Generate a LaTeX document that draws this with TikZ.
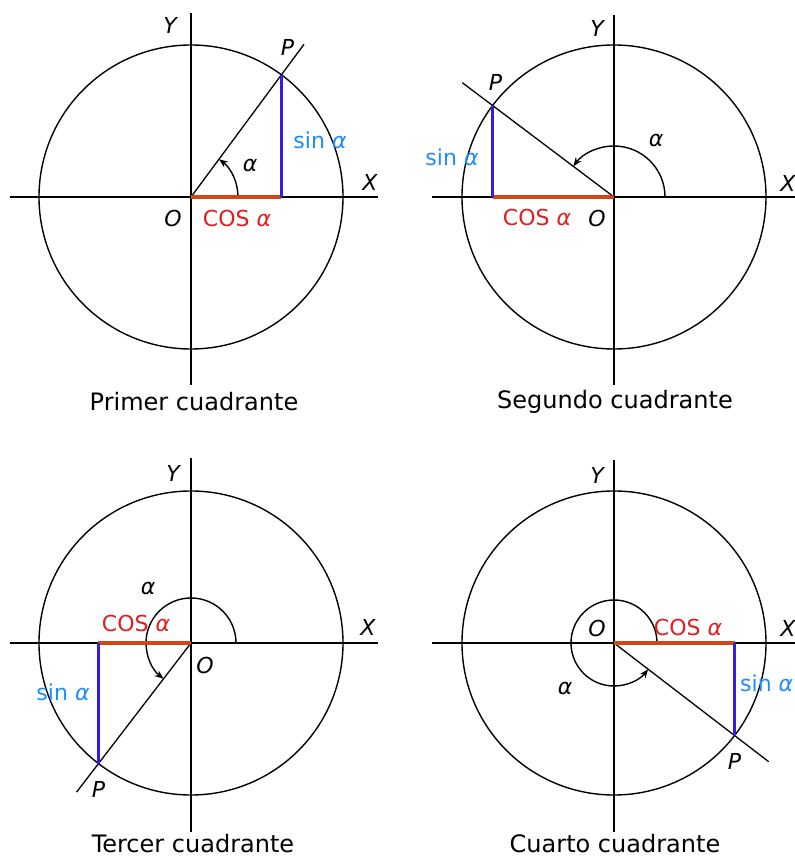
\documentclass[tikz,border=0pt]{standalone}
\usepackage{fontspec}
\setmainfont{DejaVu Sans}
\usetikzlibrary{arrows.meta}
\definecolor{sinlbl}{RGB}{30,140,255}
\definecolor{sinln}{RGB}{50,30,230}
\definecolor{cosln}{RGB}{210,70,20}
\definecolor{coslbl}{RGB}{225,30,30}
\begin{document}
\begin{tikzpicture}[
  x=1pt, y=1pt,
  axis/.style={line width=1.7pt},
  unit/.style={line width=1.4pt},
  ray/.style={line width=1.3pt},
  sinseg/.style={draw=sinln, line width=3.5pt},
  cosseg/.style={draw=cosln, line width=3.5pt},
  angarc/.style={line width=1.4pt, -{Stealth[length=9pt,width=7pt]}},
  lbl/.style={font=\fontsize{22}{24}\selectfont\itshape, inner sep=0pt},
  sinlabel/.style={font=\fontsize{22}{24}\selectfont, text=sinlbl, inner sep=0pt},
  coslabel/.style={font=\fontsize{22}{24}\selectfont, text=coslbl, inner sep=0pt},
  caption/.style={font=\fontsize{24}{28}\selectfont, inner sep=0pt}
]
\clip (0,0) rectangle (795,860);

% primer cuadrante
\begin{scope}[shift={(191,663)}]
  \coordinate (O1) at (0,0);
  \coordinate (P1) at (53.5:152);
  \coordinate (E1) at (53.5:190);
  \coordinate (F1) at (P1 |- O1);
  \draw[axis] (-181,0) -- (187,0);
  \draw[axis] (0,-188) -- (0,184);
  \draw[unit] (O1) circle (152);
  \draw[ray] (O1) -- (E1);
  \draw[angarc] (47,0) arc[start angle=0, end angle=53.5, radius=47];
  \draw[cosseg] (O1) -- (F1);
  \draw[sinseg] (F1) -- (P1);
  \node[lbl] (xlab1) at (179,15) {X};
  \node[lbl] (ylab1) at (-21,172) {Y};
  \node[lbl] (olab1) at (-18,-21) {O};
  \node[lbl] (plab1) at ([shift={(6,27)}]P1) {P};
  \node[lbl] (alab1) at (59,32) {α};
  \node[sinlabel] (sinlab1) at (129,57) {sin \textit{α}};
  \node[coslabel] (coslab1) at (46,-21) {COS \textit{α}};
  \node[caption] (cap1) at (3,-205) {Primer cuadrante};
\end{scope}

% segundo cuadrante
\begin{scope}[shift={(614,663)}]
  \coordinate (O2) at (0,0);
  \coordinate (P2) at (143:152);
  \coordinate (E2) at (143:190);
  \coordinate (F2) at (P2 |- O2);
  \draw[axis] (-182,0) -- (187,0);
  \draw[axis] (0,-188) -- (0,182);
  \draw[unit] (O2) circle (152);
  \draw[ray] (O2) -- (E2);
  \draw[angarc] (51,0) arc[start angle=0, end angle=143, radius=51];
  \draw[cosseg] (O2) -- (F2);
  \draw[sinseg] (F2) -- (P2);
  \node[lbl] (xlab2) at (174,14) {X};
  \node[lbl] (ylab2) at (-17,169) {Y};
  \node[lbl] (olab2) at (-17,-21) {O};
  \node[lbl] (plab2) at ([shift={(3,23)}]P2) {P};
  \node[lbl] (alab2) at (42,57) {α};
  \node[sinlabel] (sinlab2) at (-162,40) {sin \textit{α}};
  \node[coslabel] (coslab2) at (-77,-20) {COS \textit{α}};
  \node[caption] (cap2) at (1,-205) {Segundo cuadrante};
\end{scope}

% tercer cuadrante
\begin{scope}[shift={(191,217)}]
  \coordinate (O3) at (0,0);
  \coordinate (P3) at (232.5:152);
  \coordinate (E3) at (232.5:188);
  \coordinate (F3) at (P3 |- O3);
  \draw[axis] (-181,0) -- (187,0);
  \draw[axis] (0,-189) -- (0,185);
  \draw[unit] (O3) circle (152);
  \draw[ray] (O3) -- (E3);
  \draw[angarc] (45,0) arc[start angle=0, end angle=232.5, radius=45];
  \draw[cosseg] (O3) -- (F3);
  \draw[sinseg] (F3) -- (P3);
  \node[lbl] (xlab3) at (177,16) {X};
  \node[lbl] (ylab3) at (-18,170) {Y};
  \node[lbl] (olab3) at (14,-22) {O};
  \node[lbl] (plab3) at ([shift={(0,-26)}]P3) {P};
  \node[lbl] (alab3) at (-43,55) {α};
  \node[sinlabel] (sinlab3) at (-128,-49) {sin \textit{α}};
  \node[coslabel] (coslab3) at (-55,20) {COS \textit{α}};
  \node[caption] (cap3) at (2,-201) {Tercer cuadrante};
\end{scope}

% cuarto cuadrante
\begin{scope}[shift={(614,217)}]
  \coordinate (O4) at (0,0);
  \coordinate (P4) at (322.5:152);
  \coordinate (E4) at (322.5:195);
  \coordinate (F4) at (P4 |- O4);
  \draw[axis] (-182,0) -- (187,0);
  \draw[axis] (0,-189) -- (0,183);
  \draw[unit] (O4) circle (152);
  \draw[ray] (O4) -- (E4);
  \draw[angarc] (43,0) arc[start angle=0, end angle=322.5, radius=43];
  \draw[cosseg] (O4) -- (F4);
  \draw[sinseg] (F4) -- (P4);
  \node[lbl] (xlab4) at (174,15) {X};
  \node[lbl] (ylab4) at (-17,168) {Y};
  \node[lbl] (olab4) at (-17,15) {O};
  \node[lbl] (plab4) at ([shift={(0,-26)}]P4) {P};
  \node[lbl] (alab4) at (-49,-45) {α};
  \node[sinlabel, anchor=west] (sinlab4) at (126,-40) {sin \textit{α}};
  \node[coslabel] (coslab4) at (74,16) {COS \textit{α}};
  \node[caption] (cap4) at (1,-201) {Cuarto cuadrante};
\end{scope}
\end{tikzpicture}
\end{document}
